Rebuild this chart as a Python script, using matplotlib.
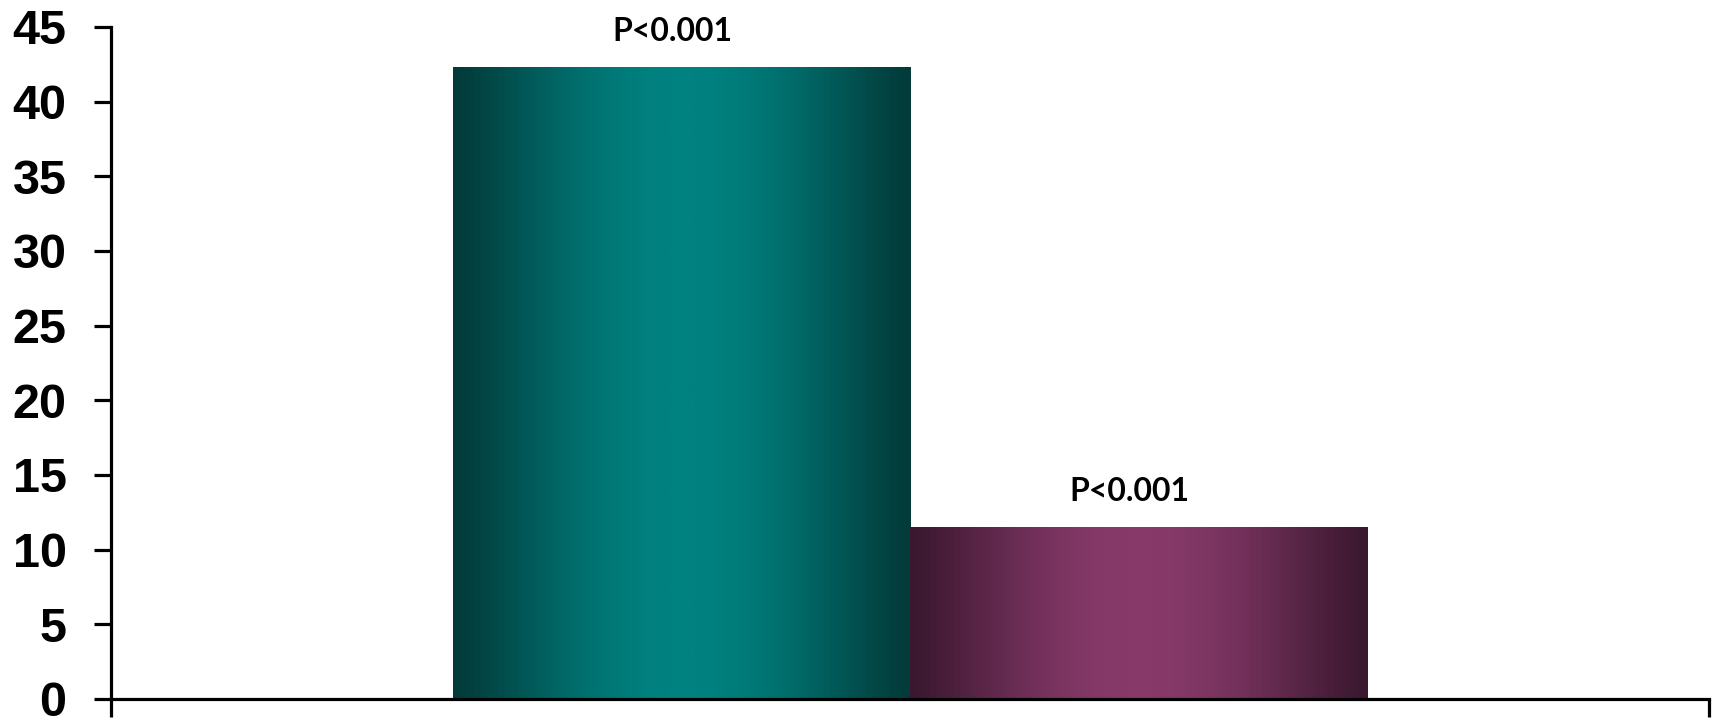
import matplotlib.pyplot as plt
import numpy as np
from matplotlib.colors import LinearSegmentedColormap

# Values per group
groups = ['Group A', 'Group B']
values = [42.3, 11.5]
labels = ['P<0.001', 'P<0.001']
edge_colors = ['#033b3a', '#3b1830']
mid_colors = ['#008280', '#873a6a']

yticks = [0, 5, 10, 15, 20, 25, 30, 35, 40, 45]

fig = plt.figure(figsize=(17.17, 7.19), dpi=100)
ax = fig.add_axes([111 / 1717, 1 - 699 / 719, (1709 - 111) / 1717, (699 - 27) / 719])

width = 0.286
offsets = [-width / 2, width / 2]
bars = ax.bar(offsets, values, width=width, color='none', edgecolor='none', zorder=2)

# horizontal shading: dark at the edges, lighter in the middle
t = np.linspace(0, 1, 256)
profile = np.sin(np.pi * t) ** 1.2
grad = profile[np.newaxis, :]

for bar, c0, c1, lab in zip(bars, edge_colors, mid_colors, labels):
    cmap = LinearSegmentedColormap.from_list('shade', [c0, c1])
    x0, y0 = bar.get_x(), bar.get_y()
    w, h = bar.get_width(), bar.get_height()
    im = ax.imshow(grad, cmap=cmap, aspect='auto', extent=[x0, x0 + w, y0, y0 + h],
                   interpolation='bilinear', zorder=2)
    im.set_clip_path(bar)
    ax.text(x0 + w / 2 - 0.006, h + 1.4, lab, ha='center', va='bottom',
            fontsize=23, fontweight='bold', family='Lato', color='black')

ax.set_xlim(-0.5, 0.5)
ax.set_ylim(0, 45)
ax.set_xticks([-0.5, 0.5])
ax.set_xticklabels([])
ax.set_yticks(yticks)
ax.set_yticklabels([str(v) for v in yticks], fontsize=35, fontweight='bold',
                   family='Liberation Sans')

for side in ['top', 'right']:
    ax.spines[side].set_visible(False)
for side in ['left', 'bottom']:
    ax.spines[side].set_linewidth(2.3)
ax.tick_params(axis='both', direction='out', length=12, width=2.3, pad=20)
ax.tick_params(axis='x', length=13)

fig.savefig('out.png', dpi=100)
